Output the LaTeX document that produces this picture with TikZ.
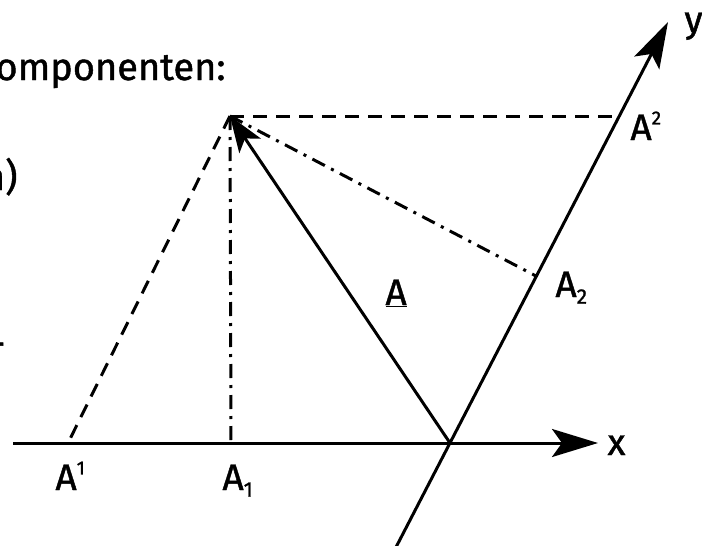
\documentclass[tikz,border=0pt]{standalone}
\usepackage{fontspec}
\setmainfont[FakeBold=1.2]{Fira Sans}
\usetikzlibrary{arrows.meta}
\newcommand{\supx}[1]{\raisebox{0.42em}{\fontsize{19}{20}\selectfont #1}}
\newcommand{\subx}[1]{\raisebox{-0.18em}{\fontsize{21}{20}\selectfont #1}}
\begin{document}
\begin{tikzpicture}[x=1pt,y=-1pt,line width=3pt,
  arr/.style={-{Stealth[length=46pt,width=28pt,inset=10pt]}},
  varr/.style={-{Stealth[length=36pt,width=26pt,inset=9pt]}},
  lbl/.style={font=\fontsize{37}{40}\selectfont,inner sep=0pt},
  txt/.style={font=\fontsize{38}{44}\selectfont,inner sep=0pt},
  dsh/.style={dash pattern=on 14pt off 9pt},
  ddot/.style={dash pattern=on 14pt off 7pt on 3pt off 7pt}]
\useasboundingbox (0,0) rectangle (702,546);
\clip (0,0) rectangle (702,546);
% points
\coordinate (O) at (450,443);
\coordinate (P) at (230,116);
\coordinate (Xs) at (13,443);
\coordinate (Xe) at (598,443);
\coordinate (Yb) at (393,553);
\coordinate (Ye) at (668,22);
\coordinate (Asup2) at (619,116);
\coordinate (Asup1) at (68,443);
\coordinate (Asub1) at (231,443);
\coordinate (Asub2) at (536,276);
% text fragments
\node[txt,anchor=base east] (t1) at (227,80) {omponenten:};
\node[txt,anchor=base east] (t2) at (19,190) {n)};
\node[txt,anchor=base east] (t3) at (7,356) {-};
% projections
\draw[dsh] (P) -- (Asup2);
\draw[dsh] (P) -- (Asup1);
\draw[ddot] (P) -- (Asub1);
\draw[ddot] (P) -- (Asub2);
% axes
\draw[arr] (Xs) -- (Xe);
\draw[arr] (Yb) -- (Ye);
% vector
\draw[varr] (O) -- (P);
% labels
\node[lbl,anchor=base west] (lx) at (606,455) {x};
\node[lbl,anchor=base west] (ly) at (683,32) {y};
\node[lbl,anchor=base west] (lA) at (384,305) {\underline{A}};
\node[lbl,anchor=base west] (lA1s) at (54,490) {A\supx{1}};
\node[lbl,anchor=base west] (lA1) at (221,490) {A\subx{1}};
\node[lbl,anchor=base west] (lA2s) at (629,140) {A\supx{2}};
\node[lbl,anchor=base west] (lA2) at (554,297) {A\subx{2}};
\end{tikzpicture}
\end{document}
